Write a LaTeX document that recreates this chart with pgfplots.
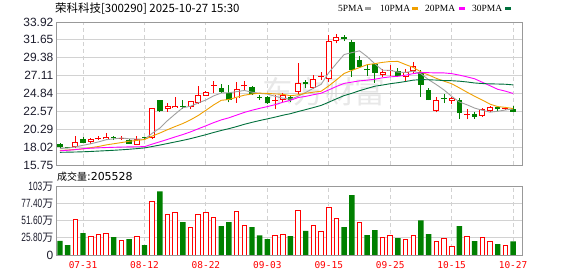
\documentclass[border=0pt]{standalone}
\usepackage{fontspec}
\usepackage{graphicx}
\usepackage{pgfplots}
\usepackage{pgfplotstable}
\pgfplotsset{compat=1.18}
\setmainfont{Liberation Sans}
\newfontfamily\cjk{Noto Sans CJK SC}
\newfontfamily\mono{DejaVu Sans Mono}
\newfontfamily\lserif{Liberation Serif}
\newfontfamily\dvs{DejaVu Sans}
\definecolor{kred}{HTML}{FF0000}
\definecolor{kgreen}{HTML}{008000}
\definecolor{ma5}{HTML}{A0A0A0}
\definecolor{ma10}{HTML}{F0A000}
\definecolor{ma20}{HTML}{FF00FF}
\definecolor{ma30}{HTML}{00703C}
\definecolor{framec}{HTML}{999999}
\definecolor{gridc}{HTML}{D2D2D2}
\definecolor{lbl}{HTML}{1E1E2E}

% cc / vc : 1 = red (up), 0 = green (down)
\pgfplotstableread{
i O H L C cc m5 m10 m20 m30 vol vc
0 18.45 18.50 17.95 18.05 0 17.85 17.60 17.55 17.36 21.4 0
1 18.00 18.05 17.85 17.92 0 17.90 17.65 17.62 17.38 15.0 0
2 18.00 19.43 17.85 18.67 1 18.05 17.72 17.70 17.40 53.4 1
3 19.10 19.25 18.55 18.60 0 18.25 17.80 17.82 17.43 32.9 0
4 18.67 19.20 18.45 19.00 1 18.45 17.95 17.88 17.47 28.0 1
5 19.10 19.45 18.90 19.20 1 18.68 18.10 17.93 17.52 31.0 1
6 19.02 19.86 18.90 19.35 1 18.96 18.30 17.97 17.57 32.4 1
7 19.25 19.40 18.95 19.18 0 19.07 18.45 18.00 17.62 26.9 0
8 19.10 19.40 18.90 19.18 1 19.18 18.60 18.03 17.68 22.4 1
9 18.90 19.10 18.40 18.47 0 19.08 18.76 18.05 17.75 23.9 0
10 18.33 19.40 18.30 19.09 1 19.05 18.87 18.07 17.83 28.0 1
11 19.25 19.35 19.00 19.15 0 19.01 18.99 18.08 17.92 15.0 0
12 19.13 22.95 19.10 22.95 1 19.77 19.42 18.40 18.10 80.3 1
13 24.00 24.00 22.50 22.55 0 20.44 19.81 18.70 18.28 95.7 0
14 22.90 23.60 22.50 23.20 1 21.39 20.24 19.00 18.48 61.3 1
15 23.00 24.35 22.95 23.30 1 22.23 20.64 19.32 18.68 63.8 1
16 23.25 24.00 22.90 23.15 0 23.03 21.02 19.62 18.88 49.4 0
17 23.16 23.90 22.90 23.84 1 23.21 21.49 19.96 19.10 41.4 1
18 23.60 25.80 23.50 24.70 1 23.64 22.04 20.35 19.35 61.3 1
19 24.52 25.10 24.50 25.06 1 24.01 22.70 20.73 19.60 63.8 1
20 25.80 26.42 24.86 25.88 1 24.53 23.38 21.13 19.88 56.4 1
21 25.50 26.00 24.95 25.00 0 24.90 23.97 21.48 20.14 43.4 0
22 24.90 25.90 23.70 24.00 0 24.93 24.07 21.75 20.37 49.4 0
23 24.20 26.30 23.63 25.40 1 25.07 24.36 22.09 20.63 65.3 1
24 25.75 26.40 25.30 25.82 1 25.22 24.62 22.43 20.92 44.4 1
25 25.70 25.80 24.70 24.80 0 25.00 24.77 22.71 21.17 41.9 0
26 24.35 24.60 24.00 24.25 0 24.85 24.88 22.95 21.40 29.5 0
27 24.45 24.50 23.50 23.60 0 24.77 24.85 23.17 21.61 23.9 0
28 23.88 24.65 22.85 23.95 1 24.48 24.78 23.41 21.83 29.5 1
29 24.00 24.90 23.70 24.65 1 24.25 24.74 23.72 22.07 31.0 1
30 24.40 24.60 23.70 24.05 0 24.10 24.55 23.97 22.27 28.4 0
31 25.06 28.75 24.80 26.20 1 24.49 24.67 24.32 22.54 67.3 1
32 26.35 26.50 25.50 26.00 0 24.97 24.87 24.47 22.79 36.4 0
33 25.57 27.20 25.40 26.64 1 25.51 25.00 24.68 23.05 44.9 1
34 27.00 27.60 26.60 27.08 1 25.99 25.12 24.87 23.32 35.9 1
35 26.64 32.30 26.30 31.54 1 27.49 25.80 25.29 23.73 71.8 1
36 31.50 32.40 31.20 31.97 1 28.65 26.57 25.73 24.16 55.3 1
37 32.05 32.30 31.50 31.72 0 29.79 27.38 26.12 24.57 41.9 0
38 31.40 31.65 26.95 27.80 0 30.02 27.77 26.28 24.86 90.2 0
39 29.10 29.60 28.10 28.25 0 30.26 28.13 26.44 25.19 49.4 1
40 27.85 28.60 27.10 27.80 0 29.51 28.50 26.53 25.48 29.9 0
41 28.60 28.70 26.20 27.50 0 28.61 28.63 26.65 25.76 37.4 0
42 27.20 28.00 26.90 27.60 1 27.79 28.79 26.83 25.91 26.4 1
43 27.70 28.40 27.10 27.75 1 27.78 28.90 26.95 26.08 29.4 1
44 27.70 28.10 26.90 27.10 0 27.55 28.91 27.02 26.21 25.4 0
45 26.97 28.00 26.30 27.60 1 27.51 28.51 27.16 26.36 23.4 1
46 27.75 28.90 27.50 28.33 1 27.68 28.15 27.36 26.53 29.4 1
47 27.60 27.85 24.43 25.92 0 27.34 27.57 27.48 26.60 52.3 0
48 25.30 25.50 24.00 24.00 0 26.59 27.19 27.48 26.58 31.4 0
49 22.65 24.35 22.45 24.00 1 25.97 26.76 27.45 26.54 20.9 1
50 24.25 24.80 23.60 24.20 0 25.29 26.40 27.45 26.48 24.9 1
51 23.92 24.35 23.45 24.26 1 24.48 26.08 27.36 26.46 13.5 1
52 24.00 24.20 21.60 22.32 0 23.76 25.55 27.17 26.40 43.4 0
53 22.15 22.85 21.55 22.20 1 23.40 25.00 26.95 26.30 27.9 1
54 22.25 22.50 21.60 21.90 0 22.98 24.48 26.70 26.17 20.9 0
55 21.98 23.05 21.90 22.83 1 22.70 24.00 26.26 26.10 26.4 1
56 22.65 23.30 22.50 23.08 1 22.47 23.48 25.82 26.06 20.9 1
57 23.10 23.30 22.60 22.90 0 22.58 23.17 25.37 26.04 16.5 0
58 22.90 23.10 22.80 22.97 1 22.74 23.07 25.13 26.01 14.5 1
59 22.83 23.20 22.45 22.50 0 22.86 22.92 24.84 25.93 20.55 0
}\data

\pgfplotsset{
  redc/.style={restrict expr to domain={\thisrow{cc}}{0.5:1.5}},
  grnc/.style={restrict expr to domain={\thisrow{cc}}{-0.5:0.5}},
  redv/.style={restrict expr to domain={\thisrow{vc}}{0.5:1.5}},
  grnv/.style={restrict expr to domain={\thisrow{vc}}{-0.5:0.5}},
  kax/.style={
    scale only axis, width=466bp,
    xmin=-0.52, xmax=60.16,
    axis line style={draw=framec, line width=0.9bp},
    xtick={3,11,19,27,35,43,51,59},
    xmajorgrids, ymajorgrids,
    x grid style={draw=gridc, dash pattern=on 4bp off 3bp, line width=0.9bp},
    y grid style={draw=gridc, line width=0.9bp},
    major tick length=0pt,
    yticklabel style={font=\fontsize{12}{12}\selectfont, text=lbl, inner sep=0pt, xshift=-2.5bp},
    unbounded coords=discard,
  },
}
\newcommand\vl[1]{\scalebox{0.7}[1]{#1}{\cjk\fontsize{11}{11}\selectfont 万}}

\begin{document}
\begin{tikzpicture}
\fill[white] (0,0) rectangle (578bp,276bp);
\node[text=black!9, inner sep=0] at (324bp,184bp) {\cjk\fontsize{31}{31}\selectfont 东方财富};

\begin{axis}[kax, at={(56bp,111bp)}, anchor=south west, height=143bp,
  ymin=15.75, ymax=33.92,
  ytick={15.75,18.02,20.29,22.57,24.84,27.11,29.38,31.65,33.92},
  yticklabels={15.75,18.02,20.29,22.57,24.84,27.11,29.38,31.65,33.92},
  xticklabels={}]
% wicks
\addplot[quiver={u=0,v=\thisrow{H}-\thisrow{L}}, draw=kred, line width=0.9bp, redc] table[x=i, y=L] {\data};
\addplot[quiver={u=0,v=\thisrow{H}-\thisrow{L}}, draw=kgreen, line width=0.9bp, grnc] table[x=i, y=L] {\data};
% bodies
\addplot[quiver={u=0,v={max(abs(\thisrow{C}-\thisrow{O}),0.12)}}, draw=kgreen, line width=5.4bp, grnc] table[x=i, y expr={min(\thisrow{O},\thisrow{C})}] {\data};
\addplot[quiver={u=0,v={max(abs(\thisrow{C}-\thisrow{O}),0.12)}}, draw=kred, line width=6bp, redc] table[x=i, y expr={min(\thisrow{O},\thisrow{C})}] {\data};
\addplot[quiver={u=0,v={max(abs(\thisrow{C}-\thisrow{O})-0.25,0)}}, draw=white, line width=4bp, redc] table[x=i, y expr={min(\thisrow{O},\thisrow{C})+0.125}] {\data};
% moving averages
\addplot[draw=ma5, line width=0.9bp] table[x=i, y=m5] {\data};
\addplot[draw=ma10, line width=0.9bp] table[x=i, y=m10] {\data};
\addplot[draw=ma20, line width=0.9bp] table[x=i, y=m20] {\data};
\addplot[draw=ma30, line width=0.9bp] table[x=i, y=m30] {\data};
\end{axis}

\begin{axis}[kax, at={(56bp,21bp)}, anchor=south west, height=68.5bp,
  ymin=0, ymax=103.2,
  ytick={0,25.8,51.6,77.4,103.2},
  yticklabels={0,\vl{25.80},\vl{51.60},\vl{77.40},\vl{103}},
  xticklabels={07-31,08-12,08-22,09-03,09-15,09-25,10-15,10-27},
  xticklabel style={text=kred, font=\mono\fontsize{9.5}{9.5}\selectfont, yshift=-3bp}]
\addplot[ybar, bar width=5.4bp, bar shift=0pt, fill=kgreen, draw=none, grnv] table[x=i, y=vol] {\data};
\addplot[ybar, bar width=4.6bp, bar shift=0pt, fill=white, draw=kred, line width=0.9bp, redv] table[x=i, y=vol] {\data};
\end{axis}

\node[anchor=west, inner sep=0] at (55bp,267.5bp) {\cjk\fontsize{11.5}{11.5}\selectfont 荣科科技[300290] 2025-10-27 15:30};
\node[anchor=west, inner sep=0] at (57bp,99bp) {\cjk\fontsize{10}{10}\selectfont 成交量\dvs\fontsize{11}{11}\selectfont:205528};

\node[anchor=west, inner sep=0] at (338bp,267.5bp) {\lserif\fontsize{9.5}{9.5}\selectfont 5PMA};
\fill[ma5] (365bp,265.5bp) rectangle (371bp,268.5bp);
\node[anchor=west, inner sep=0] at (380bp,267.5bp) {\lserif\fontsize{9.5}{9.5}\selectfont 10PMA};
\fill[ma10] (412bp,265.5bp) rectangle (418bp,268.5bp);
\node[anchor=west, inner sep=0] at (425bp,267.5bp) {\lserif\fontsize{9.5}{9.5}\selectfont 20PMA};
\fill[ma20] (459bp,265.5bp) rectangle (465bp,268.5bp);
\node[anchor=west, inner sep=0] at (472bp,267.5bp) {\lserif\fontsize{9.5}{9.5}\selectfont 30PMA};
\fill[ma30] (505bp,265.5bp) rectangle (511bp,268.5bp);
\end{tikzpicture}
\end{document}
